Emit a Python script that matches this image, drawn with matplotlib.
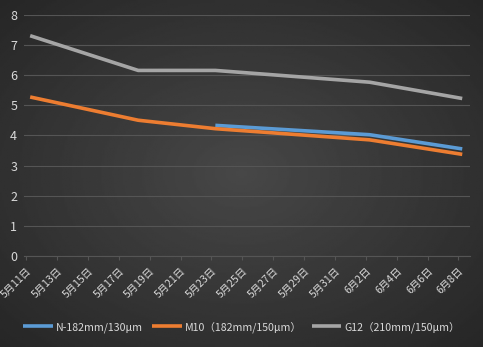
import matplotlib
matplotlib.use('Agg')
import matplotlib.pyplot as plt
import numpy as np

plt.rcParams['font.family'] = ['Noto Sans CJK SC', 'DejaVu Sans']

# days counted from 5月11日
tick_days = list(range(0, 29, 2))
tick_labels = ['5月11日', '5月13日', '5月15日', '5月17日', '5月19日', '5月21日',
               '5月23日', '5月25日', '5月27日', '5月29日', '5月31日',
               '6月2日', '6月4日', '6月6日', '6月8日']

n182_days = [12, 22, 28]
n182_vals = [4.33, 4.02, 3.55]
m10_days = [0, 7, 12, 22, 28]
m10_vals = [5.27, 4.5, 4.22, 3.85, 3.37]
g12_days = [0, 7, 12, 22, 28]
g12_vals = [7.3, 6.15, 6.15, 5.76, 5.22]

labels = ['N-182mm/130μm', 'M10（182mm/150μm）', 'G12（210mm/150μm）']
colors = ['#5B9BD5', '#ED7D31', '#A5A5A5']
txt = '#d9d9d9'

fig = plt.figure(figsize=(4.83, 3.47), dpi=100)

# dark radial background
bg = fig.add_axes([0, 0, 1, 1], zorder=-10)
yy, xx = np.mgrid[-1:1:200j, -1:1:300j]
r = np.sqrt(xx**2 + yy**2) / np.sqrt(2)
bg.imshow(0.28 - 0.13 * r, cmap='gray', vmin=0, vmax=1, aspect='auto',
          extent=[0, 1, 0, 1])
bg.axis('off')

ax = fig.add_axes([0.05, 0.262, 0.923, 0.696])
ax.patch.set_alpha(0)

for d, v, c, lab in zip([n182_days, m10_days, g12_days],
                        [n182_vals, m10_vals, g12_vals], colors, labels):
    ax.plot(d, v, color=c, lw=2.6, label=lab, solid_capstyle='butt', zorder=3)

ax.set_ylim(0, 8)
ax.set_xlim(-0.39, 28.5)
ax.set_yticks(range(0, 9))
ax.set_xticks([d - 0.25 for d in tick_days])
ax.set_xticklabels(tick_labels, rotation=45, ha='right', va='top',
                   rotation_mode='anchor', fontsize=7.5, color=txt)
ax.tick_params(axis='y', length=0, labelsize=9, labelcolor=txt, pad=5)
ax.tick_params(axis='x', length=3, color='#555555', pad=4)
ax.grid(axis='y', color='#555555', lw=0.8)
for s in ['top', 'right', 'left']:
    ax.spines[s].set_visible(False)
ax.spines['bottom'].set_color('#555555')
ax.set_axisbelow(True)

leg = fig.legend(loc='center', bbox_to_anchor=(0.5, 0.058), ncol=3,
                 frameon=False, fontsize=7.6, handlelength=2.8,
                 columnspacing=0.9, handletextpad=0.3)
for t in leg.get_texts():
    t.set_color(txt)

fig.savefig('out.png', dpi=100)
